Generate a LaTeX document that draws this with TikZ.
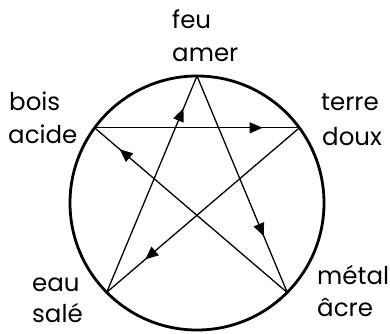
\documentclass[tikz,border=0pt]{standalone}
\usepackage{fontspec}
\setmainfont{Poppins}
\usetikzlibrary{decorations.markings,arrows.meta}
\begin{document}
\begin{tikzpicture}[x=1pt,y=-1pt,
  lbl/.style={anchor=base west,inner sep=0pt,font=\fontsize{24.5}{28}\selectfont},
  ring/.style={line width=2.8pt},
  edge/.style={line width=1.3pt, postaction={decorate},
    decoration={markings, mark=at position #1 with {\arrow{Triangle[length=13pt,width=11pt]}}}}]
\useasboundingbox (0,0) rectangle (390,333);
\coordinate (C) at (197,203);
\draw[ring] (C) circle (127pt);
\coordinate (feuV) at (197,76);
\coordinate (boisV) at (94.6,127.8);
\coordinate (terreV) at (299.4,127.8);
\coordinate (eauV) at (106.7,292.3);
\coordinate (metalV) at (287.3,292.6);
\draw[edge=0.74] (feuV) -- (metalV);
\draw[edge=0.87] (metalV) -- (boisV);
\draw[edge=0.82] (boisV) -- (terreV);
\draw[edge=0.80] (terreV) -- (eauV);
\draw[edge=0.85] (eauV) -- (feuV);
\node[lbl] (feu) at (172,28) {feu};
\node[lbl] (amer) at (172,61) {amer};
\node[lbl] (bois) at (9,110) {bois};
\node[lbl] (acide) at (8,143) {acide};
\node[lbl] (terre) at (321,110) {terre};
\node[lbl] (doux) at (322,145) {doux};
\node[lbl] (eau) at (32,291) {eau};
\node[lbl] (sale) at (32,322) {salé};
\node[lbl] (metal) at (317,284) {métal};
\node[lbl] (acre) at (317,316) {âcre};
\end{tikzpicture}
\end{document}
